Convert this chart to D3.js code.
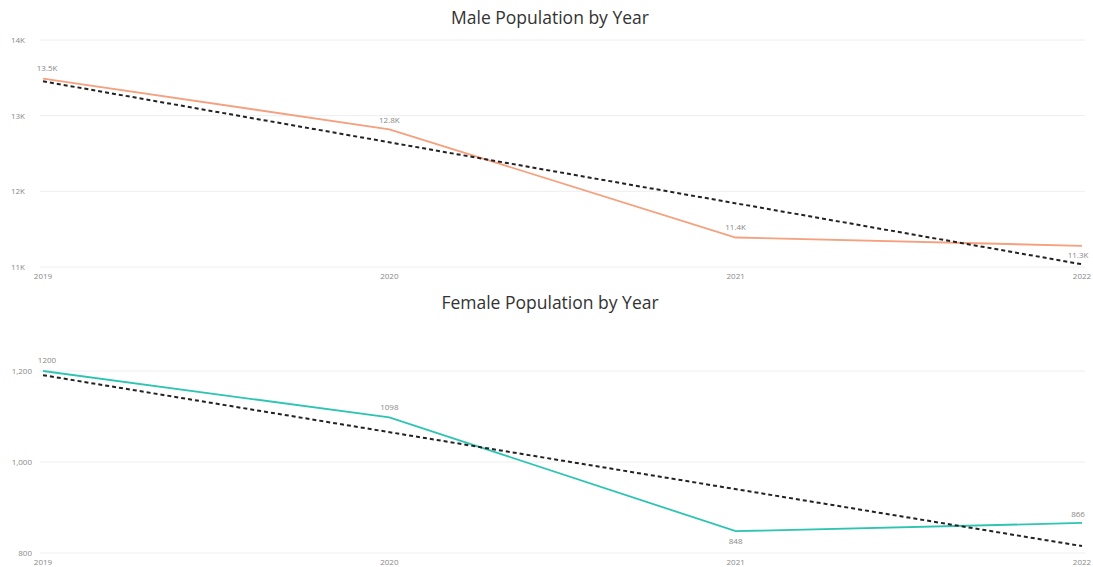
<!DOCTYPE html>
<html><head><meta charset="utf-8">
<script src="https://cdn.jsdelivr.net/npm/d3@7"></script>
<style>body{margin:0;background:#fff;}svg{display:block;font-family:"Segoe UI","Open Sans","DejaVu Sans",sans-serif;}</style>
</head><body>
<svg id="c" width="1093" height="567"></svg>
<script>
const years = [2019, 2020, 2021, 2022];
const maleValues = [13490, 12820, 11390, 11280];
const maleLabels = ["13.5K", "12.8K", "11.4K", "11.3K"];
const maleTicks = [11000, 12000, 13000, 14000];
const maleTickLabels = ["11K", "12K", "13K", "14K"];
const femaleValues = [1200, 1098, 848, 866];
const femaleLabels = ["1200", "1098", "848", "866"];
const femaleTicks = [800, 1000, 1200];
const femaleTickLabels = ["800", "1,000", "1,200"];

const svg = d3.select("#c");

function trend(vals){
  const n = vals.length, mx = (n-1)/2, my = d3.mean(vals);
  let num=0, den=0;
  vals.forEach((v,i)=>{num+=(i-mx)*(v-my);den+=(i-mx)*(i-mx);});
  const b = num/den, a = my - b*mx;
  return [a, a + b*(n-1)];
}

function chart(cfg){
  const g = svg.append("g");
  const x = d3.scalePoint().domain(years).range([43, 1082]);
  const y = d3.scaleLinear().domain(cfg.domain).range(cfg.range);
  g.append("text").attr("x", 550).attr("y", cfg.titleY).attr("text-anchor","middle")
    .attr("font-size", 17.5).attr("fill", "#333").text(cfg.title);
  g.selectAll(".grid").data(cfg.ticks).join("line")
    .attr("x1", 40).attr("x2", 1085)
    .attr("y1", d=>y(d)).attr("y2", d=>y(d))
    .attr("stroke", "#eeeeee").attr("stroke-width", 1);
  g.selectAll(".yt").data(cfg.ticks).join("text")
    .attr("x", cfg.yLabelX).attr("y", d=>y(d)+3).attr("text-anchor","end")
    .attr("font-size", 8).attr("fill", "#888").text((d,i)=>cfg.tickLabels[i]);
  g.selectAll(".xt").data(years).join("text")
    .attr("x", d=>x(d)).attr("y", cfg.xLabelY).attr("text-anchor","middle")
    .attr("font-size", 8).attr("fill", "#888").text(d=>d);
  const line = d3.line().x((d,i)=>x(years[i])).y(d=>y(d));
  g.append("path").datum(cfg.values).attr("d", line)
    .attr("fill","none").attr("stroke", cfg.color).attr("stroke-width", 1.8);
  const t = trend(cfg.values);
  g.append("line").attr("x1", x(years[0])).attr("y1", y(t[0]))
    .attr("x2", x(years[years.length-1])).attr("y2", y(t[1]))
    .attr("stroke", "#222").attr("stroke-width", 2).attr("stroke-dasharray", "4,3");
  g.selectAll(".dl").data(cfg.values).join("text")
    .attr("x", (d,i)=>x(years[i]) + (i===0?4:(i===years.length-1?-4:0)))
    .attr("y", (d,i)=>y(d) + cfg.labelDy[i])
    .attr("text-anchor", "middle")
    .attr("font-size", 8).attr("fill", "#888").text((d,i)=>cfg.labels[i]);
}

chart({title:"Male Population by Year", titleY:24, domain:[11000,14000], range:[267,40],
  ticks:maleTicks, tickLabels:maleTickLabels, values:maleValues, labels:maleLabels,
  color:"#F5A07E", yLabelX:25, xLabelY:279, labelDy:[-8,-6,-7,12]});
chart({title:"Female Population by Year", titleY:309, domain:[800,1200], range:[553,371],
  ticks:femaleTicks, tickLabels:femaleTickLabels, values:femaleValues, labels:femaleLabels,
  color:"#2EC4B2", yLabelX:32, xLabelY:565, labelDy:[-8,-7,13,-6]});
</script>
</body></html>
